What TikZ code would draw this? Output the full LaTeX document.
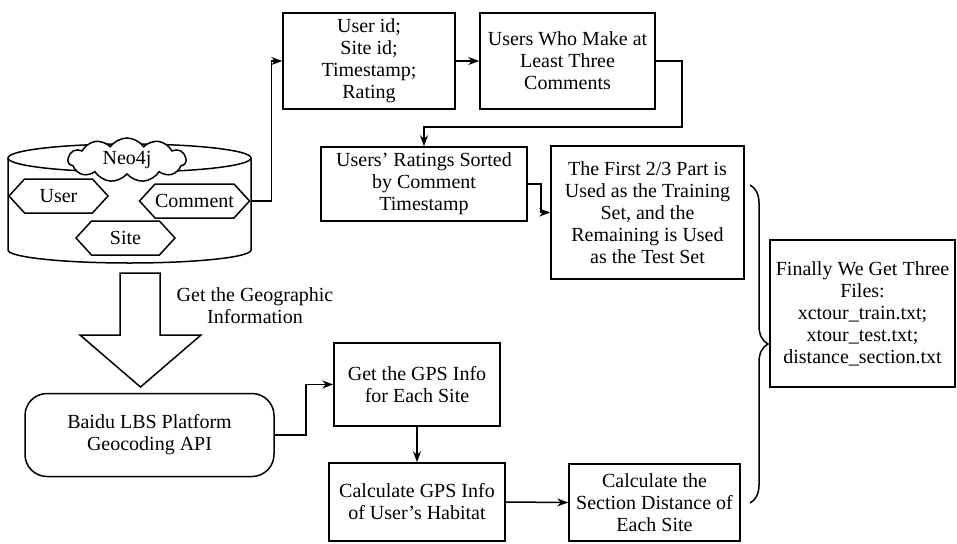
\documentclass[tikz,border=0pt]{standalone}
\usepackage{fontspec}
\setmainfont{Liberation Serif}
\usetikzlibrary{shapes.symbols,shapes.geometric,arrows.meta,decorations.pathreplacing}
\begin{document}
\begin{tikzpicture}[x=1pt,y=-1pt,
  every node/.style={font=\fontsize{20}{22}\selectfont},
  line width=1.5pt,
  boxnode/.style={draw,rectangle,align=center,inner sep=0pt},
  hexnode/.style={draw,signal,signal to=west and east,signal pointer angle=95,inner sep=0pt,minimum height=34pt,minimum width=99pt},
  arr/.style={-{Stealth[length=11pt,width=8pt]}}]
\useasboundingbox (0,0) rectangle (957,543);
% cylinder
\draw (8,158) -- (8,250) arc[start angle=180,end angle=360,x radius=121.5pt,y radius=13pt] -- (251,158);
\draw (129.5,158) ellipse[x radius=121.5pt,y radius=14pt];
\node[draw,cloud,cloud puffs=11,cloud puff arc=110,aspect=2.8,minimum width=118pt,minimum height=44pt,inner sep=0pt,fill=white] (neo) at (127,160) {Neo4j};
\node[hexnode] (user) at (58.5,196) {User};
\node[hexnode] (comment) at (194.5,201) {Comment};
\node[hexnode] (site) at (125.5,238) {Site};
% boxes
\node[boxnode,minimum width=172pt,minimum height=96pt] (b1) at (369,61) {User id;\\Site id;\\Timestamp;\\Rating};
\node[boxnode,minimum width=175pt,minimum height=96pt] (b2) at (567.5,61) {Users Who Make at\\Least Three\\Comments};
\node[boxnode,minimum width=206pt,minimum height=74pt] (b3) at (424,184) {Users' Ratings Sorted\\by Comment\\Timestamp};
\node[boxnode,minimum width=193pt,minimum height=133pt] (b4) at (647.5,212.5) {The First 2/3 Part is\\Used as the Training\\Set, and the\\Remaining is Used\\as the Test Set};
\node[boxnode,minimum width=185pt,minimum height=147pt] (b5) at (862.5,313.5) {Finally We Get Three\\Files:\\xctour\_train.txt;\\xtour\_test.txt;\\distance\_section.txt};
\node[boxnode,rounded corners=22pt,minimum width=249pt,minimum height=83pt] (baidu) at (149.5,435) {Baidu LBS Platform\\Geocoding API};
\node[boxnode,minimum width=166pt,minimum height=83pt] (b7) at (417,384.5) {Get the GPS Info\\for Each Site};
\node[boxnode,minimum width=176pt,minimum height=78pt] (b8) at (417,502) {Calculate GPS Info\\of User's Habitat};
\node[boxnode,minimum width=171pt,minimum height=77pt] (b6) at (654.5,502.5) {Calculate the\\Section Distance of\\Each Site};
% block arrow
\draw (120,273) -- (160,273) -- (160,335) -- (201,335) -- (140.5,387) -- (80,335) -- (120,335) -- cycle;
\node[align=center] (geo) at (255,306) {Get the Geographic\\Information};
% connectors
\draw[arr] (comment.east) -- ++(21,0) |- (b1.west);
\draw[arr] (b1.east) -- (b2.west);
\draw[arr] (b2.east) -- ++(26,0) -- ++(0,66) -| (b3.north);
\draw[arr] (b3.east) -- ++(13,0) |- (b4.west);
\draw[arr] (baidu.east) -- ++(31,0) |- (b7.west);
\draw[arr] (b7.south) -- (b8.north);
\draw[arr] (b8.east) -- (b6.west);
\draw[decorate,decoration={brace,amplitude=18pt}] (750,185) -- (750,503);
\end{tikzpicture}
\end{document}
